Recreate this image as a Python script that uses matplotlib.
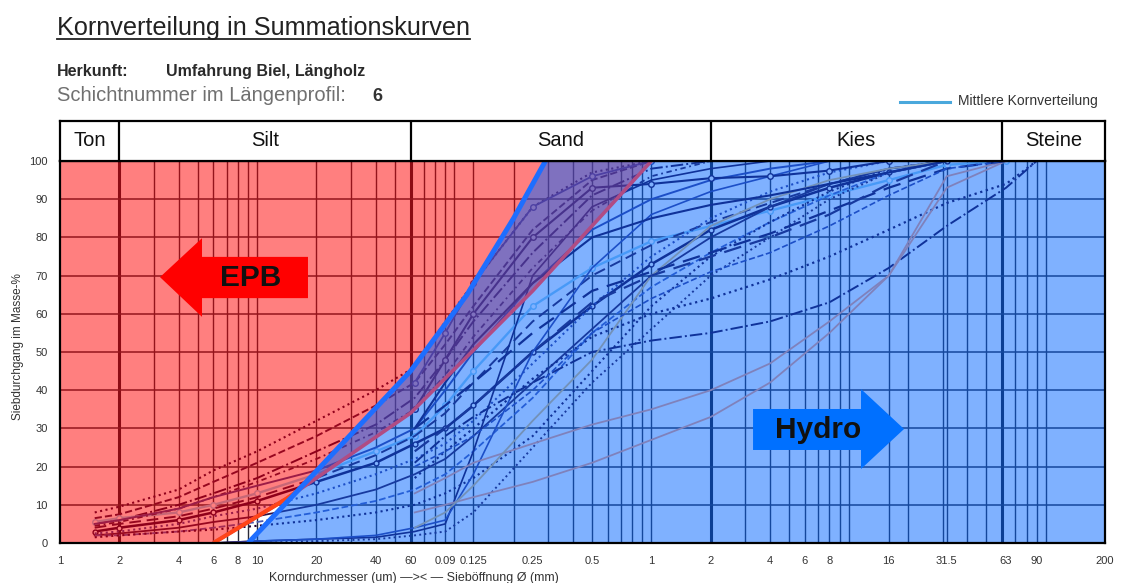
import matplotlib
matplotlib.use("Agg")
import matplotlib.pyplot as plt
from matplotlib.patches import Polygon
from matplotlib.lines import Line2D
from matplotlib.ticker import NullLocator

plt.rcParams['font.family'] = ['Liberation Sans', 'DejaVu Sans']

# ------------------------------------------------------------------ data
tick_values = [0.001, 0.002, 0.004, 0.006, 0.008, 0.01, 0.02, 0.04, 0.06,
               0.09, 0.125, 0.25, 0.5, 1, 2, 4, 6, 8, 16, 31.5, 63, 90, 200]
tick_labels = ["1", "2", "4", "6", "8", "10", "20", "40", "60", "0.09",
               "0.125", "0.25", "0.5", "1", "2", "4", "6", "8", "16", "31.5",
               "63", "90", "200"]
y_ticks = [0, 10, 20, 30, 40, 50, 60, 70, 80, 90, 100]
classes = ["Ton", "Silt", "Sand", "Kies", "Steine"]
class_bounds = [0.001, 0.002, 0.06, 2, 60, 200]

# limit lines (mm, %): red = EPB application limit, blue = Hydro limit
red_limit_x = [0.006, 0.014, 0.06, 0.25, 1.0]
red_limit_y = [0, 11.5, 34, 66, 100]
blue_limit_x = [0.009, 0.021, 0.06, 0.116, 0.2, 0.29]
blue_limit_y = [0, 20, 45, 65, 85, 100]

# sieve grids (mm)
fine_sizes = [0.0015, 0.002, 0.004, 0.006, 0.01, 0.02, 0.04, 0.063, 0.09,
              0.125, 0.25, 0.5, 1, 2, 4, 8, 16, 31.5, 63, 90]
steep_sizes = [0.006, 0.01, 0.02, 0.04, 0.063, 0.09, 0.125, 0.25, 0.5, 1, 2,
               4, 8, 16, 31.5]
sieve_sizes = [0.063, 0.09, 0.125, 0.25, 0.5, 1, 2, 4, 8, 16, 31.5, 63, 90]

# curves with hydrometer part (passing %, on fine_sizes)
h01 = [8, 9.5, 14, 19, 24, 32, 40, 46, 58, 68, 88, 97, 100]
h02 = [6.5, 7.5, 12, 16, 21, 28, 36, 42, 52, 62, 82, 95, 100]
h03 = [5, 6, 10, 13, 17, 24, 31, 38, 48, 58, 76, 91, 98, 100]
h04 = [5.5, 6.5, 8, 10, 13, 18, 24, 28, 36, 45, 62, 72, 79, 83, 87, 91, 95, 99, 100]
h05 = [4, 5, 7, 9, 12, 17, 23, 28, 34, 42, 58, 70, 78, 84, 89, 94, 98, 100]
h06 = [3, 4, 6, 8, 11, 16, 21, 26, 30, 36, 50, 62, 73, 82, 88, 93, 97, 100]
h07 = [2.5, 3, 5, 7, 9, 13, 18, 22, 26, 32, 47, 62, 75, 85, 92, 97, 100]
h08 = [2, 2.5, 4, 5.5, 7, 10, 14, 18, 22, 28, 42, 56, 70, 80, 88, 94, 98, 100]
h09 = [2, 2, 3, 4, 5.5, 8, 11, 14, 18, 24, 38, 55, 67, 76, 84, 91, 97, 100]
h10 = [1.5, 2, 3, 3.5, 4.5, 6, 8, 10, 13, 17, 28, 45, 62, 75, 84, 92, 98, 100]
h11 = [4.5, 5.5, 9, 12, 16, 22, 29, 35, 44, 54, 72, 87, 96, 100]
h12 = [5, 6, 9, 12, 15, 19, 25, 30, 40, 50, 68, 82, 90, 95, 98, 100]

# steep sandy curves (on steep_sizes)
s01 = [0, 0.5, 1, 1.5, 3, 5, 24, 70, 88, 95, 98, 100]
s02 = [0, 0.5, 1, 2, 4, 6, 18, 50, 72, 86, 92, 96, 100]
s03 = [0, 0, 0.5, 1, 2, 3, 8, 25, 42, 56, 70, 80, 90, 97, 100]

# sieve-only curves (on sieve_sizes)
c01 = [21, 28, 33, 42, 50, 53, 55, 58, 63, 72, 83, 93, 100]
c02 = [17, 24, 30, 43, 54, 60, 64, 69, 75, 82, 89, 94, 100]
g01 = [8, 10, 12, 16, 21, 27, 33, 42, 55, 70, 93, 100]
g02 = [13, 17, 21, 26, 31, 35, 40, 47, 58, 70, 96, 100]
g03 = [4, 8, 15, 32, 48, 70, 83, 90, 95, 98, 100]
d01 = [30, 36, 42, 55, 66, 71, 76, 81, 87, 93, 98, 100]
d02 = [24, 30, 36, 50, 63, 70, 75, 80, 86, 94, 100]
d03 = [20, 24, 28, 40, 55, 64, 71, 76, 83, 91, 98, 100]
t01 = [42, 55, 68, 88, 96, 100]
t02 = [35, 48, 60, 80, 93, 94, 95.5, 96, 97.5, 100]
t03 = [30, 42, 52, 68, 80, 85, 88.5, 91, 94, 97, 100]

# ------------------------------------------------------------------ styles
K1, K2, B1, B2 = '#200035', '#301040', '#3a3a90', '#4a5ab0'
GRY, GRN, MEAN = '#ffa078', '#e8c070', '#90d0f0'
curves = [
    (fine_sizes, h01, dict(color=K1, ls=':', lw=1.5)),
    (fine_sizes, h02, dict(color=K2, ls='--', lw=1.4)),
    (fine_sizes, h03, dict(color=K1, ls='-.', lw=1.4)),
    (fine_sizes, h04, dict(color=MEAN, ls='-', lw=1.7, marker='o', ms=4, mfc='white')),
    (fine_sizes, h05, dict(color=K2, ls=(0, (6, 3)), lw=1.4)),
    (fine_sizes, h06, dict(color=K1, ls='-', lw=1.8, marker='o', ms=3.5, mfc='white')),
    (fine_sizes, h07, dict(color=B1, ls=':', lw=1.5)),
    (fine_sizes, h08, dict(color=K2, ls='-', lw=1.3)),
    (fine_sizes, h09, dict(color=B2, ls='--', lw=1.3)),
    (fine_sizes, h10, dict(color=K1, ls=':', lw=1.5)),
    (fine_sizes, h11, dict(color=K2, ls=(0, (3, 2, 1, 2)), lw=1.3)),
    (fine_sizes, h12, dict(color=B1, ls='-', lw=1.4)),
    (steep_sizes, s01, dict(color=K1, ls='-', lw=1.2)),
    (steep_sizes, s02, dict(color=B1, ls='-', lw=1.2)),
    (steep_sizes, s03, dict(color=K2, ls=':', lw=1.4)),
    (sieve_sizes, c01, dict(color=K1, ls='-.', lw=1.4)),
    (sieve_sizes, c02, dict(color=K1, ls=':', lw=1.6)),
    (sieve_sizes, g01, dict(color=GRY, ls='-', lw=1.3)),
    (sieve_sizes, g02, dict(color=GRY, ls='-', lw=1.3)),
    (sieve_sizes, g03, dict(color=GRN, ls='-', lw=1.3)),
    (sieve_sizes, d01, dict(color=K1, ls=(0, (8, 4)), lw=1.6)),
    (sieve_sizes, d02, dict(color=K2, ls=(0, (8, 4)), lw=1.6)),
    (sieve_sizes, d03, dict(color=B1, ls='--', lw=1.2)),
    (sieve_sizes, t01, dict(color=B1, ls='-', lw=1.3, marker='o', ms=4, mfc='white')),
    (sieve_sizes, t02, dict(color=K1, ls='-', lw=1.5, marker='o', ms=4, mfc='white')),
    (sieve_sizes, t03, dict(color=K1, ls='-', lw=1.5)),
]

# ------------------------------------------------------------------ figure
W, H = 1122, 583
fig = plt.figure(figsize=(W / 100, H / 100), dpi=100)
fig.patch.set_facecolor('white')


def fx(px):
    return px / W


def fy(py):
    return 1 - py / H


L, R, T, B = 60, 1105, 161, 543
ax = fig.add_axes([fx(L), fy(B), (R - L) / W, (B - T) / H])
ax.set_xscale('log')
ax.set_xlim(class_bounds[0], class_bounds[-1])
ax.set_ylim(0, 100)

# grid
grid_x = []
for dec in [0.001, 0.01, 0.1, 1, 10, 100]:
    for m in range(1, 10):
        v = dec * m
        if class_bounds[0] < v < class_bounds[-1]:
            grid_x.append(v)
grid_x += [0.125, 16, 31.5]
for v in grid_x:
    ax.axvline(v, color='#2a2a3a', lw=1.0, zorder=1)
for v in class_bounds[1:-1]:
    ax.axvline(v, color='#1a1a2a', lw=2.2, zorder=1)
for v in y_ticks[1:-1]:
    ax.axhline(v, color='#2a2a3a', lw=1.1, zorder=1)

# curves (under the colour overlays)
for xs, ys, st in curves:
    n = min(len(xs), len(ys))
    ax.plot(xs[:n], ys[:n], zorder=2, **st)

# overlays: EPB region left of red limit, Hydro region right of blue limit
ax.fill([class_bounds[0]] + red_limit_x + [class_bounds[0]],
        [0] + red_limit_y + [100],
        color=(1, 0, 0), alpha=0.5, lw=0, zorder=3)
ax.fill(blue_limit_x + [class_bounds[-1], class_bounds[-1]],
        blue_limit_y + [100, 0],
        color=(0, 100 / 255, 1), alpha=0.5, lw=0, zorder=4)

# limit lines
ax.plot(red_limit_x, red_limit_y, color='#b04c84', lw=2.6, zorder=5,
        solid_capstyle='butt')
bright, = ax.plot(red_limit_x, red_limit_y, color='#ff4418', lw=3.0,
                  zorder=5.5, solid_capstyle='butt')
clip = Polygon(list(zip([class_bounds[0]] + blue_limit_x + [class_bounds[0]],
                        [0] + blue_limit_y + [100])),
               closed=True, transform=ax.transData)
bright.set_clip_path(clip)
ax.plot(blue_limit_x, blue_limit_y, color='#1e6eff', lw=3.6, zorder=6,
        solid_capstyle='butt')

# arrows
epb_arrow = [(0.0957, 0.696), (0.1359, 0.798), (0.1359, 0.749), (0.2373, 0.749),
             (0.2373, 0.641), (0.1359, 0.641), (0.1359, 0.592)]
ax.add_patch(Polygon(epb_arrow, closed=True, transform=ax.transAxes,
                     facecolor='#ff0000', edgecolor='none', zorder=8))
ax.text(0.182, 0.694, "EPB", transform=ax.transAxes, ha='center', va='center',
        fontsize=21.5, fontweight='bold', color='#111111', zorder=9)
hydro_arrow = [(0.6632, 0.3508), (0.7665, 0.3508), (0.7665, 0.4031), (0.8077, 0.2984),
               (0.7665, 0.1937), (0.7665, 0.2435), (0.6632, 0.2435)]
ax.add_patch(Polygon(hydro_arrow, closed=True, transform=ax.transAxes,
                     facecolor='#0070ff', edgecolor='none', zorder=8))
ax.text(0.7254, 0.2958, "Hydro", transform=ax.transAxes, ha='center', va='center',
        fontsize=21.5, fontweight='bold', color='#111111', zorder=9)

# ticks
ax.xaxis.set_minor_locator(NullLocator())
ax.set_xticks(tick_values)
ax.set_xticklabels(tick_labels)
ax.set_yticks(y_ticks)
ax.tick_params(axis='both', length=0, labelsize=8, colors='#333333')
ax.tick_params(axis='x', pad=9)
ax.tick_params(axis='y', pad=9)
for s in ax.spines.values():
    s.set_linewidth(1.6)
    s.set_color('black')
    s.set_zorder(10)

# header band
hx = fig.add_axes([fx(L), fy(T - 0.5), (R - L) / W, 40 / H])
hx.set_xscale('log')
hx.set_xlim(class_bounds[0], class_bounds[-1])
hx.set_ylim(0, 1)
hx.xaxis.set_minor_locator(NullLocator())
hx.set_xticks([])
hx.set_yticks([])
for s in hx.spines.values():
    s.set_linewidth(1.6)
for v in class_bounds[1:-1]:
    hx.axvline(v, color='black', lw=1.6)
for i, name in enumerate(classes):
    cx = (class_bounds[i] * class_bounds[i + 1]) ** 0.5
    hx.text(cx, 0.5, name, ha='center', va='center', fontsize=14.5, color='#111111')

# texts
title = fig.text(fx(57), fy(35), "Kornverteilung in Summationskurven",
                 fontsize=18.2, color='#222222', va='baseline')
fig.text(fx(57), fy(76), "Herkunft:", fontsize=11.5, fontweight='bold',
         color='#2a2a2a', va='baseline')
fig.text(fx(166), fy(76), "Umfahrung Biel, Längholz", fontsize=11.5,
         fontweight='bold', color='#2a2a2a', va='baseline')
fig.text(fx(57), fy(101), "Schichtnummer im Längenprofil:", fontsize=14.5,
         color='#707070', va='baseline')
fig.text(fx(372), fy(101), "6", fontsize=13, fontweight='bold',
         color='#333333', va='baseline')
fig.add_artist(Line2D([fx(900), fx(950)], [fy(102), fy(102)],
                      color='#4aa8dc', lw=2.2, transform=fig.transFigure))
fig.text(fx(958), fy(105.5), "Mittlere Kornverteilung", fontsize=10,
         color='#333333', va='baseline')
fig.text(fx(18), fy(347), "Siebdurchgang im Masse-%", rotation=90,
         fontsize=8.5, color='#333333', ha='center', va='center')
fig.text(fx(414), fy(578), "Korndurchmesser (um) \u2014>< \u2014 Sieböffnung Ø (mm)",
         fontsize=9, color='#333333', ha='center', va='center')

fig.canvas.draw()
bb = title.get_window_extent(fig.canvas.get_renderer())
fig.add_artist(Line2D([bb.x0 / W, bb.x1 / W], [fy(38.5), fy(38.5)],
                      color='#222222', lw=1.3, transform=fig.transFigure))

fig.savefig("out.png", dpi=100, facecolor='white')
